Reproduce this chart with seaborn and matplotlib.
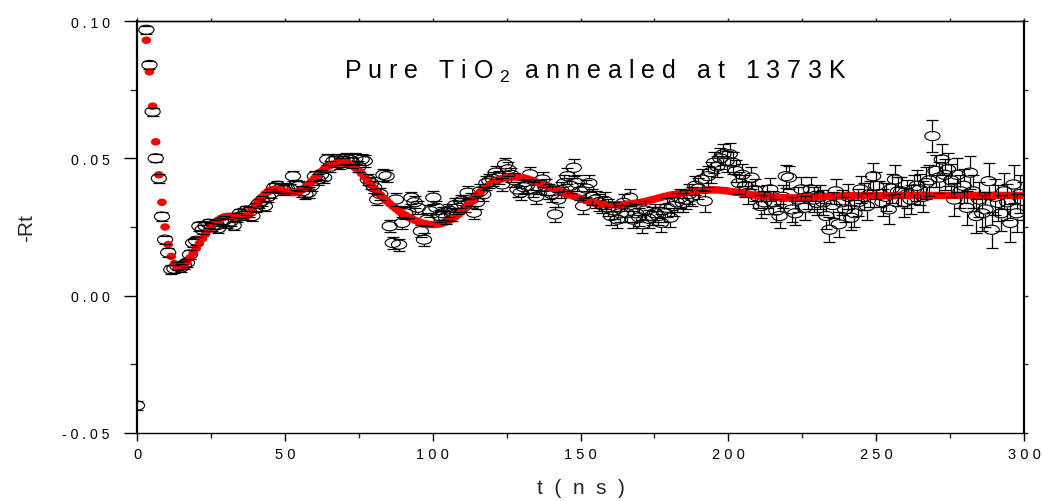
import numpy as np
import pandas as pd
import matplotlib
matplotlib.use("Agg")
import matplotlib.pyplot as plt
import seaborn as sns
from matplotlib.path import Path
from matplotlib.transforms import Affine2D
from matplotlib.ticker import MultipleLocator, NullFormatter

# ---------------- data ----------------
dt = 1.055  # ns per channel

rt_data = [
    -0.040, 0.130, 0.112, 0.0968, 0.084, 0.067, 0.050, 0.0427, 0.0288, 0.0204,
    0.0157, 0.0095, 0.0098, 0.0107, 0.0102, 0.0112, 0.0120, 0.0150, 0.0192, 0.0200,
    0.0253, 0.0240, 0.0253, 0.0262, 0.0250, 0.0258, 0.0245, 0.0268, 0.0275, 0.0262,
    0.0270, 0.0255, 0.0285, 0.0300, 0.0292, 0.0310, 0.0305, 0.0290, 0.0320, 0.0335,
    0.0345, 0.0326, 0.0360, 0.0372, 0.0394, 0.0400, 0.0390, 0.0385, 0.0392, 0.0390,
    0.0435, 0.0402, 0.0400, 0.0380, 0.0370, 0.0375, 0.0400, 0.0435, 0.0423, 0.0440,
    0.0430, 0.0496, 0.0470, 0.0490, 0.0496, 0.0480, 0.0490, 0.0500, 0.0496, 0.0485,
    0.0500, 0.0470, 0.0496, 0.0490, 0.0423, 0.0410, 0.0395, 0.0350, 0.0370, 0.0440,
    0.0435, 0.0253, 0.0192, 0.0350, 0.0186, 0.0265, 0.0300, 0.0305, 0.0357, 0.0340,
    0.0320, 0.0235, 0.0204, 0.0277, 0.0308, 0.0357, 0.0320, 0.0290, 0.0300, 0.0285,
    0.0310, 0.0296, 0.0330, 0.0320, 0.0344, 0.0330, 0.0375, 0.0350, 0.0302, 0.0340,
    0.0380, 0.0369, 0.0410, 0.0417, 0.0425, 0.0448, 0.0430, 0.0405, 0.0478, 0.0460,
    0.0440, 0.0420, 0.0387, 0.0375, 0.0395, 0.0400, 0.0442, 0.0387, 0.0360, 0.0395,
    0.0423, 0.0395, 0.0380, 0.0370, 0.0296, 0.0350, 0.0385, 0.0410, 0.0435, 0.0400,
    0.0466, 0.0410, 0.0380, 0.0326, 0.0390, 0.0410, 0.0360, 0.0350, 0.0340, 0.0330,
    0.0345, 0.0320, 0.0290, 0.0310, 0.0277, 0.0300, 0.0338, 0.0300, 0.0357, 0.0277,
    0.0300, 0.0285, 0.0260, 0.0310, 0.0280, 0.0290, 0.0300, 0.0290, 0.0265, 0.0300,
    0.0320, 0.0284, 0.0326, 0.0340, 0.0355, 0.0338, 0.0350, 0.0370, 0.0360, 0.0400,
    0.0390, 0.0423, 0.0344, 0.0435, 0.0450, 0.0484, 0.0470, 0.0500, 0.0515, 0.0490,
    0.0515, 0.0484, 0.0454, 0.0410, 0.0440, 0.0400, 0.0375, 0.0430, 0.0385, 0.0360,
    0.0326, 0.0340, 0.0360, 0.0387, 0.0340, 0.0310, 0.0290, 0.0360, 0.0435, 0.0430,
    0.0314, 0.0300, 0.0350, 0.0387, 0.0320, 0.0360, 0.0387, 0.0350, 0.0338, 0.0360,
    0.0340, 0.0290, 0.0240, 0.0330, 0.0380, 0.0260, 0.0340, 0.0314, 0.0360, 0.0284,
    0.0300, 0.0340, 0.0387, 0.0360, 0.0326, 0.0370, 0.0435, 0.0400, 0.0370, 0.0340,
    0.0360, 0.0314, 0.0390, 0.0423, 0.0380, 0.0380, 0.0340, 0.0370, 0.0350, 0.0387,
    0.0400, 0.0387, 0.0360, 0.0410, 0.0420, 0.0581, 0.0454, 0.0430, 0.0496, 0.0440,
    0.0460, 0.0420, 0.0350, 0.0440, 0.0380, 0.0400, 0.0320, 0.0448, 0.0380, 0.0290,
    0.0350, 0.0300, 0.0314, 0.0417, 0.0240, 0.0360, 0.0338, 0.0300, 0.0380, 0.0340,
    0.0265, 0.0405, 0.0300, 0.0370, 0.0345,
]

rt_fit = [
    0.130, 0.118, 0.105, 0.093, 0.0815, 0.069, 0.056, 0.044, 0.034, 0.025,
    0.0186, 0.0143, 0.0117, 0.0106, 0.0105, 0.0110, 0.0122, 0.0138, 0.0155, 0.0172,
    0.0190, 0.0208, 0.0225, 0.0240, 0.0255, 0.0266, 0.0275, 0.0282, 0.0287, 0.0289,
    0.0289, 0.0288, 0.0286, 0.0285, 0.0287, 0.0291, 0.0300, 0.0313, 0.0328, 0.0343,
    0.0358, 0.0370, 0.0379, 0.0385, 0.0387, 0.0387, 0.0385, 0.0381, 0.0378, 0.0376,
    0.0375, 0.0376, 0.0380, 0.0386, 0.0395, 0.0405, 0.0416, 0.0428, 0.0440, 0.0451,
    0.0461, 0.0469, 0.0475, 0.0479, 0.0482, 0.0484, 0.0484, 0.0482, 0.0479, 0.0474,
    0.0466, 0.0456, 0.0445, 0.0432, 0.0418, 0.0405, 0.0392, 0.0379, 0.0367, 0.0356,
    0.0345, 0.0335, 0.0326, 0.0317, 0.0308, 0.0300, 0.0293, 0.0286, 0.0280, 0.0275,
    0.0270, 0.0266, 0.0263, 0.0261, 0.0259, 0.0259, 0.0259, 0.0261, 0.0264, 0.0268,
    0.0273, 0.0279, 0.0287, 0.0296, 0.0306, 0.0317, 0.0329, 0.0341, 0.0353, 0.0365,
    0.0377, 0.0387, 0.0396, 0.0404, 0.0411, 0.0417, 0.0422, 0.0426, 0.0429, 0.0431,
    0.0432, 0.0432, 0.0432, 0.0431, 0.0429, 0.0426, 0.0422, 0.0418, 0.0414, 0.0410,
    0.0406, 0.0402, 0.0397, 0.0392, 0.0387, 0.0382, 0.0378, 0.0374, 0.0370, 0.0366,
    0.0362, 0.0358, 0.0354, 0.0350, 0.0346, 0.0343, 0.0340, 0.0337, 0.0335, 0.0333,
    0.0332, 0.0331, 0.0331, 0.0331, 0.0331, 0.0331, 0.0332, 0.0333, 0.0334, 0.0335,
    0.0337, 0.0339, 0.0341, 0.0343, 0.0346, 0.0349, 0.0352, 0.0355, 0.0358, 0.0361,
    0.0363, 0.0366, 0.0368, 0.0370, 0.0372, 0.0374, 0.0376, 0.0378, 0.0380, 0.0381,
    0.0382, 0.0383, 0.0384, 0.0384, 0.0385, 0.0385, 0.0385, 0.0384, 0.0383, 0.0382,
    0.0380, 0.0378, 0.0377, 0.0375, 0.0373, 0.0371, 0.0369, 0.0367, 0.0366, 0.0364,
    0.0363, 0.0362, 0.0361, 0.0360, 0.0359, 0.0358, 0.0357, 0.0357, 0.0356, 0.0356,
    0.0356, 0.0356, 0.0357, 0.0357, 0.0358, 0.0358, 0.0359, 0.0359, 0.0360, 0.0360,
    0.0361, 0.0361, 0.0362, 0.0362, 0.0362, 0.0363, 0.0363, 0.0363, 0.0363, 0.0364,
    0.0364, 0.0364, 0.0364, 0.0364, 0.0364, 0.0364, 0.0364, 0.0364, 0.0364, 0.0364,
    0.0364, 0.0364, 0.0364, 0.0364, 0.0365, 0.0365, 0.0365, 0.0365, 0.0365, 0.0365,
    0.0365, 0.0365, 0.0365, 0.0365, 0.0365, 0.0365, 0.0365, 0.0365, 0.0365, 0.0365,
    0.0365, 0.0365, 0.0365, 0.0365, 0.0365, 0.0365, 0.0365, 0.0365, 0.0365, 0.0365,
    0.0365, 0.0365, 0.0365, 0.0365, 0.0365, 0.0365, 0.0365, 0.0365, 0.0365, 0.0365,
    0.0365, 0.0365, 0.0365, 0.0365, 0.0365,
]

# error bar half-size, one value per block of 10 channels
err_blocks = [0.0015, 0.0015, 0.0016, 0.0017, 0.0018, 0.0019, 0.0020, 0.0021,
              0.0022, 0.0023, 0.0024, 0.0025, 0.0026, 0.0028, 0.0030, 0.0031,
              0.0033, 0.0035, 0.0038, 0.0040, 0.0042, 0.0044, 0.0046, 0.0049,
              0.0052, 0.0057, 0.0061, 0.0065, 0.0069]

x_ticks = [0, 50, 100, 150, 200, 250, 300]
x_tick_labels = ["0", "5 0", "1 0 0", "1 5 0", "2 0 0", "2 5 0", "3 0 0"]
y_ticks = [-0.05, 0.0, 0.05, 0.10]
y_tick_labels = ["- 0 . 0 5", "0 . 0 0", "0 . 0 5", "0 . 1 0"]
title_text = "P u r e   T i O $_{2}$  a n n e a l e d   a t   1 3 7 3 K"
x_label = "t  (  n  s  )"
y_label = "-Rt"

# ---------------- figure ----------------
sns.set_style("white")
plt.rcParams["font.family"] = ["Liberation Sans", "DejaVu Sans"]
plt.rcParams["mathtext.fontset"] = "custom"
plt.rcParams["mathtext.rm"] = "Liberation Sans"
plt.rcParams["mathtext.it"] = "Liberation Sans:italic"
plt.rcParams["mathtext.bf"] = "Liberation Sans:bold"

W, H = 1043, 502
fig = plt.figure(figsize=(W / 100, H / 100), dpi=100)
ax = fig.add_axes([137 / W, 1 - 434 / H, 887 / W, 412 / H])
ax.set_xlim(0, 300)
ax.set_ylim(-0.05, 0.10)

n = len(rt_data)
t = np.arange(n) * dt
err = np.repeat(err_blocks, 10)[:n]
df = pd.DataFrame({"t": t, "rt": rt_data, "fit": rt_fit[:n], "err": err})

ellipse = Path.unit_circle().transformed(Affine2D().scale(1.0, 0.6))
dot = Path.unit_circle().transformed(Affine2D().scale(1.0, 0.78))

# open circles (data)
sns.scatterplot(data=df, x="t", y="rt", ax=ax, marker=ellipse, s=120,
                facecolor="none", edgecolor="black", linewidth=0.8,
                zorder=2, legend=False)

# fit (red dots)
sns.scatterplot(data=df, x="t", y="fit", ax=ax, marker=dot, s=48,
                color="#ff0000", edgecolor="none", linewidth=0,
                zorder=3, legend=False)

# error bars that stop at the marker edge (Origin style)
fig.canvas.draw()
px_per_y = ax.bbox.height / (0.10 - (-0.05))
px_per_x = ax.bbox.width / 300.0
r = 4.5 / px_per_y
cap_half = 6.0 / px_per_x
y = df["rt"].to_numpy()
e = df["err"].to_numpy()
show = e > r
ax.vlines(t[show], (y + r)[show], (y + e)[show], color="black", lw=0.9, zorder=4)
ax.vlines(t[show], (y - e)[show], (y - r)[show], color="black", lw=0.9, zorder=4)
ax.hlines(y + e, t - cap_half, t + cap_half, color="black", lw=0.9, zorder=4)
ax.hlines(y - e, t - cap_half, t + cap_half, color="black", lw=0.9, zorder=4)

# ticks
ax.set_xticks(x_ticks, x_tick_labels)
ax.set_yticks(y_ticks, y_tick_labels)
ax.xaxis.set_minor_locator(MultipleLocator(25))
ax.yaxis.set_minor_locator(MultipleLocator(0.025))
ax.tick_params(axis="x", which="major", direction="out", length=6.0, width=1.0,
               pad=4, labelsize=10.5, bottom=True, top=False, colors="black")
ax.tick_params(axis="x", which="minor", direction="out", length=3.6, width=1.0,
               bottom=True, top=False)
ax.tick_params(axis="y", which="major", direction="out", length=9.5, width=1.0,
               pad=10, labelsize=10.2, left=True, right=False, colors="black")
ax.tick_params(axis="y", which="minor", direction="out", length=5.0, width=1.0,
               left=True, right=False)

secx = ax.secondary_xaxis("top")
secx.set_xticks(x_ticks)
secx.xaxis.set_minor_locator(MultipleLocator(25))
secx.xaxis.set_major_formatter(NullFormatter())
secx.tick_params(which="both", direction="out", length=2.5, width=1.0)
secx.spines["top"].set_linewidth(1.0)

secy = ax.secondary_yaxis("right")
secy.set_yticks(y_ticks)
secy.yaxis.set_minor_locator(MultipleLocator(0.025))
secy.yaxis.set_major_formatter(NullFormatter())
secy.tick_params(which="both", direction="out", length=3.0, width=1.0)
secy.spines["right"].set_linewidth(1.5)

for side, lw in {"left": 1.6, "bottom": 1.0, "top": 1.0, "right": 1.5}.items():
    ax.spines[side].set_visible(True)
    ax.spines[side].set_linewidth(lw)
    ax.spines[side].set_color("black")

ax.set_xlabel(x_label, fontsize=15)
ax.set_ylabel(y_label, fontsize=15)
ax.xaxis.set_label_coords(0.5, -0.11)
ax.yaxis.set_label_coords(-0.114, 0.5)

ax.text(0.517, 0.879, title_text, transform=ax.transAxes, ha="center",
        va="center", fontsize=18, color="black")

fig.savefig("out.png", dpi=100)
